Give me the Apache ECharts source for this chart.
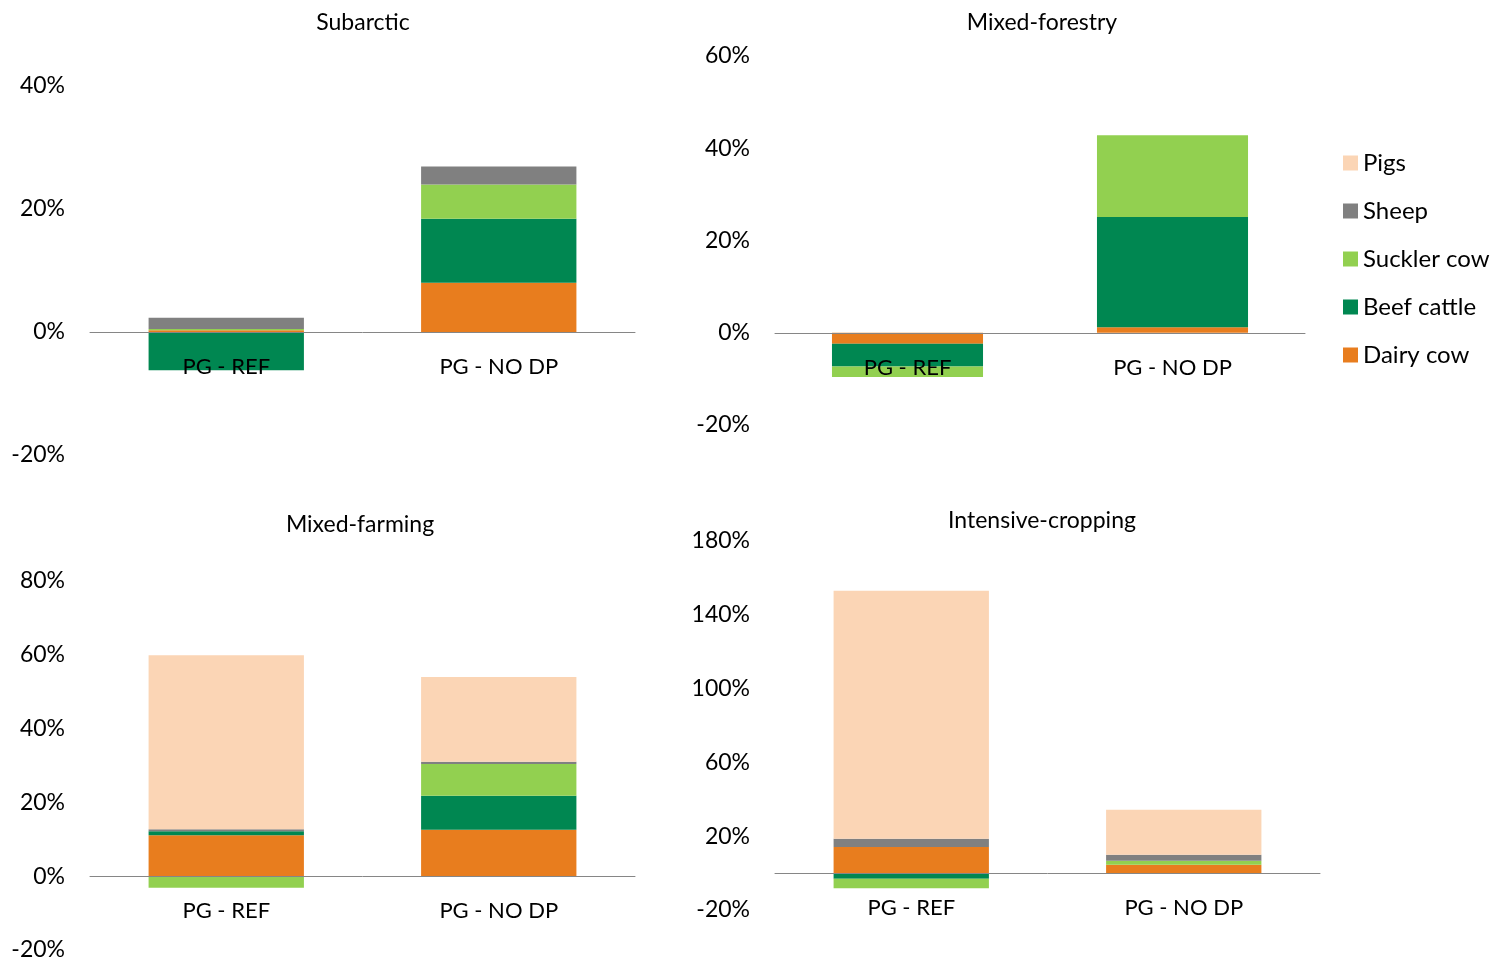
<!DOCTYPE html>
<html>
<head>
<meta charset="utf-8">
<title>Livestock contributions by region</title>
<script src="https://cdn.jsdelivr.net/npm/echarts@6/dist/echarts.min.js"></script>
<style>
  html, body { margin: 0; padding: 0; background: #fff; }
  #chart { width: 1496px; height: 965px; }
</style>
</head>
<body>
<div id="chart"></div>
<script>
// Scenario categories shown on every panel
const categories = ['PG - REF', 'PG - NO DP'];

// Panel titles, in panel order
const panelTitles = ['Subarctic', 'Mixed-forestry', 'Mixed-farming', 'Intensive-cropping'];

// Value-axis ranges per panel (percent)
const axisMin = [-20, -20, -20, -20];
const axisMax = [40, 60, 80, 180];
const axisStep = [20, 20, 20, 40];

// Contribution per livestock type (%), one [REF, NO DP] pair per panel
const dairyCow   = [[0.3, 8.0],  [-2.4, 1.2],  [11.1, 12.6], [14.1, 4.5]];
const beefCattle = [[-6.2, 10.4], [-4.9, 23.9], [1.1, 9.2],   [-3.1, -0.5]];
const sucklerCow = [[0.2, 5.6],  [-2.3, 17.7], [-3.1, 8.6],  [-5.1, 2.2]];
const sheep      = [[1.8, 2.9],  [0, 0],       [0.5, 0.6],   [4.5, 3.3]];
const pigs       = [[0, 0],      [0, 0],       [47.2, 23.0], [134.5, 24.4]];

// Legend order (top to bottom)
const legendOrder = ['Pigs', 'Sheep', 'Suckler cow', 'Beef cattle', 'Dairy cow'];

const FONT = 'Lato';
const TXT = '#000000';
const FS = 23;

// Stack order from the axis outward
const layers = [
  { name: 'Dairy cow',   data: dairyCow,   color: '#E87D1E' },
  { name: 'Beef cattle', data: beefCattle, color: '#008751' },
  { name: 'Suckler cow', data: sucklerCow, color: '#92D050' },
  { name: 'Sheep',       data: sheep,      color: '#808080' },
  { name: 'Pigs',        data: pigs,       color: '#FBD5B5' }
];

// Plot rectangles: [left, top, right edge x, bottom edge y]
const boxes = [
  [90, 86, 635, 455],
  [775, 56, 1305, 425],
  [90, 581, 635, 950],
  [775, 541, 1320, 910]
];
const titlePos = [[363, 22], [1042, 22], [360, 524], [1042, 520]];

const W = 1496, H = 965;

const grid = boxes.map(b => ({
  left: b[0], top: b[1], width: b[2] - b[0], height: b[3] - b[1],
  containLabel: false, outerBoundsMode: 'none'
}));

// The category axis (line and labels) sits on the zero value of its panel
const xAxis = boxes.map((b, i) => {
  const h = b[3] - b[1];
  const zeroFromBottom = h * (0 - axisMin[i]) / (axisMax[i] - axisMin[i]);
  return {
    type: 'category',
    gridIndex: i,
    data: categories,
    position: 'bottom',
    offset: -zeroFromBottom,
    z: 10,
    axisLine: { onZero: false, lineStyle: { color: '#868686', width: 1 } },
    axisTick: { show: false },
    axisLabel: { fontFamily: FONT, fontSize: 22, color: TXT, margin: 24 },
    splitLine: { show: false }
  };
});

const yAxis = boxes.map((b, i) => ({
  type: 'value',
  gridIndex: i,
  min: axisMin[i],
  max: axisMax[i],
  interval: axisStep[i],
  axisLine: { show: false },
  axisTick: { show: false },
  splitLine: { show: false },
  axisLabel: {
    fontFamily: FONT, fontSize: FS, color: TXT, margin: 25,
    formatter: v => v + '%'
  }
}));

const series = [];
boxes.forEach((b, i) => {
  layers.forEach(layer => {
    series.push({
      name: layer.name,
      type: 'bar',
      xAxisIndex: i,
      yAxisIndex: i,
      stack: 'panel' + i,
      barWidth: '57%',
      itemStyle: { color: layer.color },
      emphasis: { disabled: true },
      data: layer.data[i]
    });
  });
});

const title = panelTitles.map((t, i) => ({
  text: t,
  left: titlePos[i][0],
  top: titlePos[i][1] - 11,
  padding: 0,
  textAlign: 'center',
  textStyle: { fontFamily: FONT, fontSize: FS, fontWeight: 'normal', color: TXT }
}));

const chart = echarts.init(document.getElementById('chart'), null, { renderer: 'canvas', width: W, height: H });
chart.setOption({
  backgroundColor: '#ffffff',
  animation: false,
  title: title,
  legend: {
    data: legendOrder,
    orient: 'vertical',
    left: 1343,
    top: 151,
    padding: 0,
    itemWidth: 15,
    itemHeight: 15,
    itemGap: 24,
    icon: 'rect',
    textStyle: { fontFamily: FONT, fontSize: 24, color: TXT, lineHeight: 23 }
  },
  grid: grid,
  xAxis: xAxis,
  yAxis: yAxis,
  series: series
});
</script>
</body>
</html>
